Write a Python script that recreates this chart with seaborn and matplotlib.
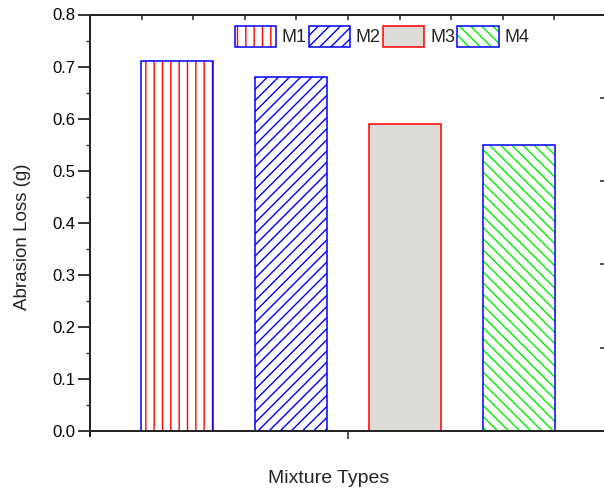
import matplotlib
matplotlib.use("Agg")
import matplotlib.pyplot as plt
import seaborn as sns
from matplotlib.ticker import MultipleLocator

# datos
mezclas = ["M1", "M2", "M3", "M4"]
perdida = [0.71, 0.68, 0.59, 0.55]
colores_trama = ["#ff0000", "#0000ff", "#b8b8b0", "#00ee00"]
colores_borde = ["#0000ff", "#0000ff", "#ff0000", "#0000ff"]
tramas = ["||", "///", "", "\\\\\\"]
rellenos = ["white", "white", "#dedcd6", "white"]

sns.set_style("ticks")
plt.rcParams["font.family"] = ["Liberation Sans", "DejaVu Sans"]
plt.rcParams["hatch.linewidth"] = 1.0

fig = plt.figure(figsize=(6.04, 4.91), dpi=100)
ax = fig.add_axes([90 / 604, 60 / 491, 516 / 604, 416.5 / 491])

# capa 1: relleno y trama (sin borde propio)
sns.barplot(x=mezclas, y=perdida, color="white", width=0.63, errorbar=None, ax=ax)
for p, trama, ct, fc in zip(ax.patches, tramas, colores_trama, rellenos):
    p.set_hatch(trama)
    p.set_facecolor(fc)
    p.set_edgecolor(ct)
    p.set_linewidth(0)

# capa 2: solo el borde
sns.barplot(x=mezclas, y=perdida, hue=mezclas, palette=colores_borde, fill=False,
            width=0.63, errorbar=None, legend=False, linewidth=1.1, ax=ax)

ax.set_xlim(-0.763, 3.763)
ax.set_ylim(0, 0.8)
ax.set_xticks([1.5])
ax.set_xticklabels([""])
ax.yaxis.set_major_locator(MultipleLocator(0.1))
ax.yaxis.set_minor_locator(MultipleLocator(0.05))
ax.yaxis.set_major_formatter(plt.FormatStrFormatter("%.1f"))
ax.tick_params(axis="y", which="major", direction="out", length=8.5, width=1.1, pad=2,
               labelsize=12, colors="black")
ax.tick_params(axis="y", which="minor", direction="out", length=3, width=1.0)
ax.tick_params(axis="x", which="major", direction="out", length=5.5, width=1.1)
for s in ax.spines.values():
    s.set_linewidth(1.3)
    s.set_color("black")
ax.spines["left"].set_bounds(-0.009, 0.8)

ax.set_xlabel("Mixture Types", fontsize=14, labelpad=19, x=0.462)
ax.set_ylabel("Abrasion Loss (g)", fontsize=13.5, labelpad=15, y=0.467)

# ejes secundarios (solo marcas)
ax_der = ax.twinx()
ax_der.set_ylim(0, 5)
ax_der.yaxis.set_major_locator(MultipleLocator(1))
ax_der.yaxis.set_minor_locator(MultipleLocator(0.5))
ax_der.tick_params(axis="y", which="major", direction="in", length=4, width=1.1, labelright=False)
ax_der.tick_params(axis="y", which="minor", direction="in", length=1.8, width=1.0)

ax_sup = ax.twiny()
ax_sup.set_xlim(0, 5)
ax_sup.xaxis.set_major_locator(MultipleLocator(1))
ax_sup.xaxis.set_minor_locator(MultipleLocator(0.5))
ax_sup.tick_params(axis="x", which="both", direction="in", length=3.5, width=1.1, labeltop=False)
for a in (ax_der, ax_sup):
    for s in a.spines.values():
        s.set_linewidth(1.3)

# leyenda: cada entrada superpone trama y borde
barras = ax.patches
manejadores = [(barras[i], barras[i + 4]) for i in range(4)]
ax_sup.legend(manejadores, mezclas, loc="center", bbox_to_anchor=(382 / 604, 1 - 36.5 / 491),
              bbox_transform=fig.transFigure, ncol=4, frameon=False, fontsize=13,
              handlelength=2.28, handleheight=1.42, handletextpad=0.33, columnspacing=0.12,
              borderpad=0.2)

fig.savefig("out.png", dpi=100)
